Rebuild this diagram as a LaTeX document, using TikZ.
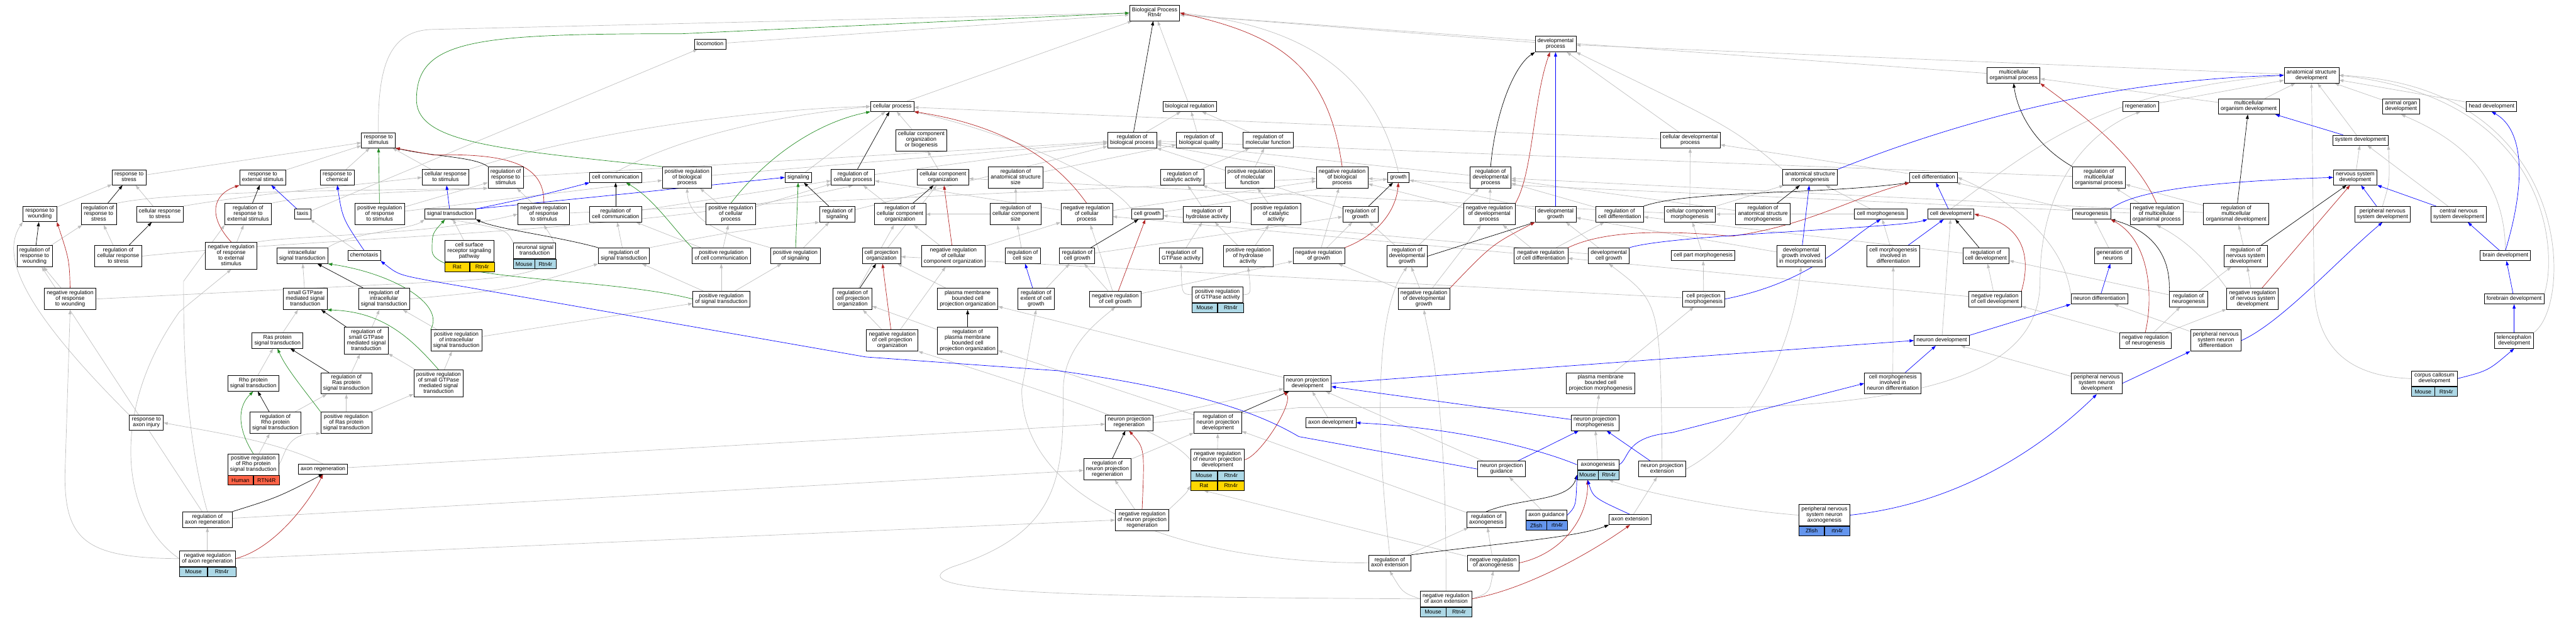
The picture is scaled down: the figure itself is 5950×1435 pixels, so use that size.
\documentclass[tikz,border=0pt]{standalone}
\usepackage{fontspec}
\setmainfont{Liberation Sans}
\usepackage{tikz}
\usetikzlibrary{arrows.meta, positioning}
\definecolor{isagray}{RGB}{190,190,190}
\definecolor{negred}{RGB}{178,34,34}
\definecolor{posgreen}{RGB}{34,139,34}
\definecolor{partblue}{RGB}{0,0,255}
\definecolor{mouseblue}{RGB}{173,216,230}
\definecolor{ratgold}{RGB}{255,215,0}
\definecolor{humanred}{RGB}{255,99,71}
\definecolor{zfishblue}{RGB}{100,149,237}
\pgfdeclarelayer{edgelayer}
\pgfsetlayers{edgelayer,main}

\begin{document}
\begin{tikzpicture}[x=1pt, y=-1pt,
        gobox/.style={rectangle, draw, line width=1.1pt, fill=white, align=center, inner xsep=5.5pt, inner ysep=5pt, font=\fontsize{12.8}{13}\selectfont, execute at begin node=\strut, execute at end node=\strut},
        genecell/.style={rectangle, draw, line width=1.1pt, anchor=north west, minimum height=22pt, inner sep=0pt, font=\fontsize{12.8}{13}\selectfont},
        arrowline/.style={-{Triangle[length=10pt,width=7pt]}, line width=1pt},
        isaline/.style={arrowline, isagray},
        regline/.style={arrowline, black},
        negline/.style={arrowline, negred},
        posline/.style={arrowline, posgreen},
        partline/.style={arrowline, partblue}
    ]
        \useasboundingbox (0,0) rectangle (5950,1435);
        \node[gobox] (bp) at (2667,30) {Biological Process\\Rtn4r};
        \node[gobox] (loco) at (1640,102) {locomotion};
        \node[gobox] (devproc) at (3593,102) {developmental\\process};
        \node[gobox] (mcop) at (4651,174) {multicellular\\organismal process};
        \node[gobox] (asd) at (5339,174) {anatomical structure\\development};
        \node[gobox] (cellproc) at (2061,246) {cellular process};
        \node[gobox] (bioreg) at (2748,246) {biological regulation};
        \node[gobox] (regen) at (4944,246) {regeneration};
        \node[gobox] (mcod) at (5194,246) {multicellular\\organism development};
        \node[gobox] (aod) at (5546,246) {animal organ\\development};
        \node[gobox] (headdev) at (5755,246) {head development};
        \node[gobox] (respstim) at (874,324) {response to\\stimulus};
        \node[gobox] (ccob) at (2128,324) {cellular component\\organization\\or biogenesis};
        \node[gobox] (regbp) at (2615,324) {regulation of\\biological process};
        \node[gobox] (regbq) at (2770,324) {regulation of\\biological quality};
        \node[gobox] (regmf) at (2929,324) {regulation of\\molecular function};
        \node[gobox] (celldevproc) at (3904,324) {cellular developmental\\process};
        \node[gobox] (sysdev) at (5452,324) {system development};
        \node[gobox] (respstress) at (298,410) {response to\\stress};
        \node[gobox] (respext) at (607,410) {response to\\external stimulus};
        \node[gobox] (respchem) at (779,410) {response to\\chemical};
        \node[gobox] (cellrespstim) at (1029,410) {cellular response\\to stimulus};
        \node[gobox] (regrespstim) at (1168,410) {regulation of\\response to\\stimulus};
        \node[gobox] (cellcomm) at (1422,410) {cell communication};
        \node[gobox] (posregbp) at (1587,410) {positive regulation\\of biological\\process};
        \node[gobox] (signaling) at (1844,410) {signaling};
        \node[gobox] (regcp) at (1970,410) {regulation of\\cellular process};
        \node[gobox] (cco) at (2178,410) {cellular component\\organization};
        \node[gobox] (regass) at (2346,410) {regulation of\\anatomical structure\\size};
        \node[gobox] (regcat) at (2731,410) {regulation of\\catalytic activity};
        \node[gobox] (posregmf) at (2887,410) {positive regulation\\of molecular\\function};
        \node[gobox] (negregbp) at (3100,410) {negative regulation\\of biological\\process};
        \node[gobox] (growth) at (3230,410) {growth};
        \node[gobox] (regdevproc) at (3443,410) {regulation of\\developmental\\process};
        \node[gobox] (asm) at (4181,410) {anatomical structure\\morphogenesis};
        \node[gobox] (celldiff) at (4466,410) {cell differentiation};
        \node[gobox] (regmcop) at (4848,410) {regulation of\\multicellular\\organismal process};
        \node[gobox] (nsd) at (5440,410) {nervous system\\development};
        \node[gobox] (respwound) at (92,495) {response to\\wounding};
        \node[gobox] (regrespstress) at (228,495) {regulation of\\response to\\stress};
        \node[gobox] (cellrespstress) at (369,495) {cellular response\\to stress};
        \node[gobox] (regrespext) at (573,495) {regulation of\\response to\\external stimulus};
        \node[gobox] (taxis) at (699,495) {taxis};
        \node[gobox] (posregrespstim) at (877,495) {positive regulation\\of response\\to stimulus};
        \node[gobox] (sigtrans) at (1040,495) {signal transduction};
        \node[gobox] (negregrespstim) at (1256,495) {negative regulation\\of response\\to stimulus};
        \node[gobox] (regcellcomm) at (1422,495) {regulation of\\cell communication};
        \node[gobox] (posregcp) at (1688,495) {positive regulation\\of cellular\\process};
        \node[gobox] (regsig) at (1934,495) {regulation of\\signaling};
        \node[gobox] (regcco) at (2079,495) {regulation of\\cellular component\\organization};
        \node[gobox] (regccs) at (2346,495) {regulation of\\cellular component\\size};
        \node[gobox] (negregcp) at (2510,495) {negative regulation\\of cellular\\process};
        \node[gobox] (cellgrowth) at (2650,495) {cell growth};
        \node[gobox] (reghyd) at (2788,495) {regulation of\\hydrolase activity};
        \node[gobox] (posregcat) at (2947,495) {positive regulation\\of catalytic\\activity};
        \node[gobox] (reggrowth) at (3142,495) {regulation of\\growth};
        \node[gobox] (negregdevproc) at (3440,495) {negative regulation\\of developmental\\process};
        \node[gobox] (devgrowth) at (3593,495) {developmental\\growth};
        \node[gobox] (regcelldiff) at (3741,495) {regulation of\\cell differentiation};
        \node[gobox] (ccm) at (3903,495) {cellular component\\morphogenesis};
        \node[gobox] (regasm) at (4072,495) {regulation of\\anatomical structure\\morphogenesis};
        \node[gobox] (cellmorph) at (4344,495) {cell morphogenesis};
        \node[gobox] (celldev) at (4506,495) {cell development};
        \node[gobox] (neurogen) at (4831,495) {neurogenesis};
        \node[gobox] (negregmcop) at (4981,495) {negative regulation\\of multicellular\\organismal process};
        \node[gobox] (regmcod) at (5165,495) {regulation of\\multicellular\\organismal development};
        \node[gobox] (pnsd) at (5503,495) {peripheral nervous\\system development};
        \node[gobox] (cnsd) at (5679,495) {central nervous\\system development};
        \node[gobox] (regrespwound) at (80,592) {regulation of\\response to\\wounding};
        \node[gobox] (regcellrespstress) at (273,592) {regulation of\\cellular response\\to stress};
        \node[gobox] (negregrespext) at (534,591) {negative regulation\\of response\\to external\\stimulus};
        \node[gobox] (intrasig) at (698,591) {intracellular\\signal transduction};
        \node[gobox] (chemotaxis) at (841,591) {chemotaxis};
        \node[gobox, minimum width=114pt] (csrsp) at (1084,580) {cell surface\\receptor signaling\\pathway};
        \node[genecell, fill=ratgold, minimum width=57pt] (csrsp-sp) at (csrsp.south west) {Rat};
        \node[genecell, fill=ratgold, minimum width=57pt] (csrsp-gn) at (csrsp-sp.north east) {Rtn4r};
        \node[gobox, minimum width=97pt] (neursig) at (1235,580) {neuronal signal\\transduction};
        \node[genecell, fill=mouseblue, minimum width=48.5pt] (neursig-sp) at (neursig.south west) {Mouse};
        \node[genecell, fill=mouseblue, minimum width=48.5pt] (neursig-gn) at (neursig-sp.north east) {Rtn4r};
        \node[gobox] (regsigtrans) at (1441,591) {regulation of\\signal transduction};
        \node[gobox] (posregcellcomm) at (1666,591) {positive regulation\\of cell communication};
        \node[gobox] (posregsig) at (1837,591) {positive regulation\\of signaling};
        \node[gobox] (cellprojorg) at (2036,591) {cell projection\\organization};
        \node[gobox] (negregcco) at (2202,592) {negative regulation\\of cellular\\component organization};
        \node[gobox] (regcellsize) at (2362,591) {regulation of\\cell size};
        \node[gobox] (regcellgrowth) at (2488,591) {regulation of\\cell growth};
        \node[gobox] (reggtp) at (2728,591) {regulation of\\GTPase activity};
        \node[gobox] (posreghyd) at (2883,592) {positive regulation\\of hydrolase\\activity};
        \node[gobox] (negreggrowth) at (3046,591) {negative regulation\\of growth};
        \node[gobox] (regdevgrowth) at (3250,592) {regulation of\\developmental\\growth};
        \node[gobox] (negregcelldiff) at (3559,591) {negative regulation\\of cell differentiation};
        \node[gobox] (devcellgrowth) at (3716,591) {developmental\\cell growth};
        \node[gobox] (cellpartmorph) at (3934,591) {cell part morphogenesis};
        \node[gobox] (devgrowthmorph) at (4160,592) {developmental\\growth involved\\in morphogenesis};
        \node[gobox] (cellmorphdiff) at (4373,592) {cell morphogenesis\\involved in\\differentiation};
        \node[gobox] (regcelldev) at (4587,591) {regulation of\\cell development};
        \node[gobox] (genneur) at (4880,591) {generation of\\neurons};
        \node[gobox] (regnsd) at (5187,592) {regulation of\\nervous system\\development};
        \node[gobox] (braindev) at (5787,591) {brain development};
        \node[gobox] (negregrespwound) at (162,691) {negative regulation\\of response\\to wounding};
        \node[gobox] (smallgtp) at (705,691) {small GTPase\\mediated signal\\transduction};
        \node[gobox] (regintrasig) at (887,691) {regulation of\\intracellular\\signal transduction};
        \node[gobox] (posregsigtrans) at (1666,691) {positive regulation\\of signal transduction};
        \node[gobox] (regcellprojorg) at (1969,691) {regulation of\\cell projection\\organization};
        \node[gobox] (pmbcpo) at (2235,691) {plasma membrane\\bounded cell\\projection organization};
        \node[gobox] (regextgrowth) at (2393,691) {regulation of\\extent of cell\\growth};
        \node[gobox] (negregcellgrowth) at (2576,691) {negative regulation\\of cell growth};
        \node[gobox, minimum width=118pt] (posreggtp) at (2812,681) {positive regulation\\of GTPase activity};
        \node[genecell, fill=mouseblue, minimum width=59pt] (posreggtp-sp) at (posreggtp.south west) {Mouse};
        \node[genecell, fill=mouseblue, minimum width=59pt] (posreggtp-gn) at (posreggtp-sp.north east) {Rtn4r};
        \node[gobox] (negregdevgrowth) at (3289,691) {negative regulation\\of developmental\\growth};
        \node[gobox] (cellprojmorph) at (3935,691) {cell projection\\morphogenesis};
        \node[gobox] (negregcelldev) at (4608,691) {negative regulation\\of cell development};
        \node[gobox] (neurdiff) at (4849,691) {neuron differentiation};
        \node[gobox] (regneurogen) at (5055,691) {regulation of\\neurogenesis};
        \node[gobox] (negregnsd) at (5203,691) {negative regulation\\of nervous system\\development};
        \node[gobox] (forebrain) at (5807,691) {forebrain development};
        \node[gobox] (rassig) at (641,787) {Ras protein\\signal transduction};
        \node[gobox] (regsmallgtp) at (846,787) {regulation of\\small GTPase\\mediated signal\\transduction};
        \node[gobox] (posregintrasig) at (1054,787) {positive regulation\\of intracellular\\signal transduction};
        \node[gobox] (negregcellprojorg) at (2061,787) {negative regulation\\of cell projection\\organization};
        \node[gobox] (regpmbcpo) at (2235,787) {regulation of\\plasma membrane\\bounded cell\\projection organization};
        \node[gobox] (neurdev) at (4485,787) {neuron development};
        \node[gobox] (negregneurogen) at (4955,787) {negative regulation\\of neurogenesis};
        \node[gobox] (pnsneurdiff) at (5118,787) {peripheral nervous\\system neuron\\differentiation};
        \node[gobox] (telenc) at (5807,787) {telencephalon\\development};
        \node[gobox] (rhosig) at (585,886) {Rho protein\\signal transduction};
        \node[gobox] (regrassig) at (800,886) {regulation of\\Ras protein\\signal transduction};
        \node[gobox] (posregsmallgtp) at (1013,886) {positive regulation\\of small GTPase\\mediated signal\\transduction};
        \node[gobox] (npd) at (3020,886) {neuron projection\\development};
        \node[gobox] (pmbcpm) at (3697,886) {plasma membrane\\bounded cell\\projection morphogenesis};
        \node[gobox] (cellmorphneur) at (4372,886) {cell morphogenesis\\involved in\\neuron differentiation};
        \node[gobox] (pnsneurdev) at (4843,886) {peripheral nervous\\system neuron\\development};
        \node[gobox, minimum width=105pt] (corpus) at (5623,875) {corpus callosum\\development};
        \node[genecell, fill=mouseblue, minimum width=52.5pt] (corpus-sp) at (corpus.south west) {Mouse};
        \node[genecell, fill=mouseblue, minimum width=52.5pt] (corpus-gn) at (corpus-sp.north east) {Rtn4r};
        \node[gobox] (respaxinj) at (338,977) {response to\\axon injury};
        \node[gobox] (regrhosig) at (636,977) {regulation of\\Rho protein\\signal transduction};
        \node[gobox] (posregrassig) at (800,977) {positive regulation\\of Ras protein\\signal transduction};
        \node[gobox] (nprojregen) at (2608,977) {neuron projection\\regeneration};
        \node[gobox] (regnpd) at (2813,977) {regulation of\\neuron projection\\development};
        \node[gobox] (axondev) at (3074,977) {axon development};
        \node[gobox] (npmorph) at (3684,977) {neuron projection\\morphogenesis};
        \node[gobox, minimum width=118pt] (posregrhosig) at (585,1073.5) {positive regulation\\of Rho protein\\signal transduction};
        \node[genecell, fill=humanred, minimum width=59pt] (posregrhosig-sp) at (posregrhosig.south west) {Human};
        \node[genecell, fill=humanred, minimum width=59pt] (posregrhosig-gn) at (posregrhosig-sp.north east) {RTN4R};
        \node[gobox] (axonregen) at (746,1084) {axon regeneration};
        \node[gobox] (regnpregen) at (2558,1084) {regulation of\\neuron projection\\regeneration};
        \node[gobox, minimum width=123pt] (negregnpd) at (2812,1062.5) {negative regulation\\of neuron projection\\development};
        \node[genecell, fill=mouseblue, minimum width=61.5pt] (negregnpd-sp) at (negregnpd.south west) {Mouse};
        \node[genecell, fill=mouseblue, minimum width=61.5pt] (negregnpd-gn) at (negregnpd-sp.north east) {Rtn4r};
        \node[genecell, fill=ratgold, minimum width=61.5pt] (negregnpd-rs) at (negregnpd-sp.south west) {Rat};
        \node[genecell, fill=ratgold, minimum width=61.5pt] (negregnpd-rg) at (negregnpd-rs.north east) {Rtn4r};
        \node[gobox] (npguid) at (3468,1084) {neuron projection\\guidance};
        \node[gobox, minimum width=96pt] (axonogen) at (3691,1074) {axonogenesis};
        \node[genecell, fill=mouseblue, minimum width=48pt] (axonogen-sp) at (axonogen.south west) {Mouse};
        \node[genecell, fill=mouseblue, minimum width=48pt] (axonogen-gn) at (axonogen-sp.north east) {Rtn4r};
        \node[gobox] (npext) at (3839,1084) {neuron projection\\extension};
        \node[gobox] (regaxonregen) at (479,1201) {regulation of\\axon regeneration};
        \node[gobox] (negregnpregen) at (2638,1202) {negative regulation\\of neuron projection\\regeneration};
        \node[gobox] (regaxonogen) at (3433,1201) {regulation of\\axonogenesis};
        \node[gobox, minimum width=95pt] (axonguid) at (3572,1190.5) {axon guidance};
        \node[genecell, fill=zfishblue, minimum width=47.5pt] (axonguid-sp) at (axonguid.south west) {Zfish};
        \node[genecell, fill=zfishblue, minimum width=47.5pt] (axonguid-gn) at (axonguid-sp.north east) {rtn4r};
        \node[gobox] (axonext) at (3765,1201) {axon extension};
        \node[gobox, minimum width=116pt] (pnsaxonogen) at (4214,1190.5) {peripheral nervous\\system neuron\\axonogenesis};
        \node[genecell, fill=zfishblue, minimum width=58pt] (pnsaxonogen-sp) at (pnsaxonogen.south west) {Zfish};
        \node[genecell, fill=zfishblue, minimum width=58pt] (pnsaxonogen-gn) at (pnsaxonogen-sp.north east) {rtn4r};
        \node[gobox] (regaxonext) at (3210,1301) {regulation of\\axon extension};
        \node[gobox] (negregaxonogen) at (3449,1301) {negative regulation\\of axonogenesis};
        \node[gobox, minimum width=129pt] (negregaxonregen) at (479,1291) {negative regulation\\of axon regeneration};
        \node[genecell, fill=mouseblue, minimum width=64.5pt] (negregaxonregen-sp) at (negregaxonregen.south west) {Mouse};
        \node[genecell, fill=mouseblue, minimum width=64.5pt] (negregaxonregen-gn) at (negregaxonregen-sp.north east) {Rtn4r};
        \node[gobox, minimum width=118pt] (negregaxonext) at (3340,1384) {negative regulation\\of axon extension};
        \node[genecell, fill=mouseblue, minimum width=59pt] (negregaxonext-sp) at (negregaxonext.south west) {Mouse};
        \node[genecell, fill=mouseblue, minimum width=59pt] (negregaxonext-gn) at (negregaxonext-sp.north east) {Rtn4r};
        \begin{pgfonlayer}{edgelayer}
        \draw[isaline] (respstim.north) .. controls (872,150) and (900,70) .. (1000,68) -- (bp.west);
        \draw[isaline] (loco) -- (bp);
        \draw[isaline] (cellproc) -- (bp);
        \draw[isaline] (bioreg) -- (bp);
        \draw[isaline] (devproc) -- (bp);
        \draw[isaline] (mcop) -- (bp);
        \draw[isaline] (growth.north) .. controls (3175,160) and (3000,60) .. (bp.east);
        \draw[isaline] (respstress) -- (respstim);
        \draw[isaline] (respext) -- (respstim);
        \draw[isaline] (respchem) -- (respstim);
        \draw[isaline] (cellrespstim) -- (respstim);
        \draw[isaline] (cellrespstim.north east) .. controls (1383,294) and (1800,250) .. (cellproc.west);
        \draw[isaline] (taxis) -- (loco);
        \draw[isaline] (regrespstim) -- (regbp);
        \draw[isaline] (cellcomm.north) .. controls (1600,300) and (1850,262) .. (cellproc.west);
        \draw[isaline] (posregbp) -- (regbp);
        \draw[isaline] (signaling) -- (cellproc);
        \draw[isaline] (regcp) -- (regbp);
        \draw[isaline] (ccob) -- (cellproc);
        \draw[isaline] (regbp) -- (bioreg);
        \draw[isaline] (regbq) -- (bioreg);
        \draw[isaline] (regmf) -- (bioreg);
        \draw[isaline] (cco) -- (ccob);
        \draw[isaline] (regass) -- (regbq);
        \draw[isaline] (regcat) -- (regmf);
        \draw[isaline] (posregmf) -- (regmf);
        \draw[isaline] (negregbp) -- (regbp);
        \draw[isaline] (regdevproc) -- (regbp);
        \draw[isaline] (celldevproc) -- (cellproc);
        \draw[isaline] (celldevproc) -- (devproc);
        \draw[isaline] (asd) -- (devproc);
        \draw[isaline] (mcod) -- (asd);
        \draw[isaline] (mcod) -- (mcop);
        \draw[isaline] (aod) -- (asd);
        \draw[isaline] (headdev) -- (asd);
        \draw[isaline] (sysdev) -- (asd);
        \draw[isaline] (nsd) -- (sysdev);
        \draw[isaline] (regen) -- (asd);
        \draw[isaline] (braindev.north) .. controls (5785,420) and (5700,330) .. (aod.south);
        \draw[isaline] (forebrain.north east) .. controls (5905,600) and (5905,230) .. (asd.east);
        \draw[isaline] (telenc.north east) .. controls (5945,700) and (5945,200) .. (asd.east);
        \draw[isaline] (corpus.west) .. controls (5420,870) and (5345,800) .. (5345,650) -- (asd.south);
        \draw[isaline] (cnsd) -- (sysdev);
        \draw[isaline] (pnsd.north) .. controls (5520,420) .. (sysdev.south east);
        \draw[isaline] (regmcop) -- (regbp);
        \draw[isaline] (negregmcop) -- (regmcop);
        \draw[isaline] (negregmcop) -- (negregbp);
        \draw[isaline] (regmcod) -- (regmcop);
        \draw[isaline] (regmcod) -- (regdevproc);
        \draw[isaline] (regnsd) -- (regmcod);
        \draw[isaline] (negregnsd) -- (regnsd);
        \draw[isaline] (negregnsd.north west) .. controls (5110,620) and (5060,560) .. (negregmcop.south);
        \draw[isaline] (regneurogen) -- (regnsd);
        \draw[isaline] (regneurogen) -- (regcelldev);
        \draw[isaline] (negregneurogen) -- (regneurogen);
        \draw[isaline] (negregneurogen) -- (negregnsd);
        \draw[isaline] (negregneurogen) -- (negregcelldev);
        \draw[isaline] (celldiff) -- (celldevproc);
        \draw[isaline] (celldev.north) .. controls (4700,340) and (4850,210) .. (asd.west);
        \draw[isaline] (cellmorph) -- (asm);
        \draw[isaline] (cellmorph) -- (ccm);
        \draw[isaline] (ccm) -- (asm);
        \draw[isaline] (ccm) -- (celldevproc);
        \draw[isaline] (ccm) -- (cco);
        \draw[isaline] (asm.north west) .. controls (4000,294) .. (devproc.south east);
        \draw[isaline] (regasm) -- (regdevproc);
        \draw[isaline] (cellpartmorph) -- (ccm);
        \draw[isaline] (cellprojmorph) -- (cellpartmorph);
        \draw[isaline] (cellprojmorph) -- (cellprojorg);
        \draw[isaline] (pmbcpm) -- (cellprojmorph);
        \draw[isaline] (devgrowth) -- (growth);
        \draw[isaline] (devcellgrowth) -- (devgrowth);
        \draw[isaline] (devcellgrowth) -- (cellgrowth);
        \draw[isaline] (devgrowthmorph) -- (devgrowth);
        \draw[isaline] (npext.east) .. controls (4050,1000) and (4140,800) .. (devgrowthmorph.south);
        \draw[isaline] (npext.north) .. controls (3835,700) .. (devcellgrowth.south);
        \draw[isaline] (regcelldiff) -- (regdevproc);
        \draw[isaline] (negregcelldiff) -- (regcelldiff);
        \draw[isaline] (negregcelldiff) -- (negregdevproc);
        \draw[isaline] (negregcelldiff) -- (negregcp);
        \draw[isaline] (regcelldev) -- (regcelldiff);
        \draw[isaline] (negregcelldev) -- (regcelldev);
        \draw[isaline] (negregcelldev) -- (negregcelldiff);
        \draw[isaline] (neurdiff.north west) .. controls (4765,551) and (4640,460) .. (celldiff.east);
        \draw[isaline] (genneur) -- (neurogen);
        \draw[isaline] (neurogen) -- (celldiff);
        \draw[isaline] (neurdev) -- (celldev);
        \draw[isaline] (cellmorphdiff) -- (cellmorph);
        \draw[isaline] (cellmorphneur) -- (cellmorphdiff);
        \draw[isaline] (pnsneurdev) -- (neurdev);
        \draw[isaline] (pnsaxonogen.west) .. controls (4000,1179) and (3800,1140) .. (axonogen-gn.south);
        \draw[isaline] (pnsneurdiff) -- (neurdiff);
        \draw[isaline] (cellgrowth) -- (growth);
        \draw[isaline] (cellgrowth.north west) .. controls (2574,427) and (2383,321) .. (cellproc.south east);
        \draw[isaline] (regcellgrowth) -- (reggrowth);
        \draw[isaline] (negregcellgrowth) -- (regcellgrowth);
        \draw[isaline] (negregcellgrowth) -- (negreggrowth);
        \draw[isaline] (negregcellgrowth) -- (negregcp);
        \draw[isaline] (regextgrowth) -- (regcellgrowth);
        \draw[isaline] (regcellsize) -- (regccs);
        \draw[isaline] (regccs) -- (regass);
        \draw[isaline] (regccs) -- (regcco);
        \draw[isaline] (negregcp) -- (regcp);
        \draw[isaline] (negregcp) -- (negregbp);
        \draw[isaline] (regcco) -- (regcp);
        \draw[isaline] (negregcco) -- (regcco);
        \draw[isaline] (negregcco) -- (negregcp);
        \draw[isaline] (reghyd) -- (regcat);
        \draw[isaline] (reggtp) -- (reghyd);
        \draw[isaline] (posreghyd) -- (reghyd);
        \draw[isaline] (posreghyd) -- (posregcat);
        \draw[isaline] (posregcat) -- (regcat);
        \draw[isaline] (posregcat) -- (posregmf);
        \draw[isaline] (posreggtp.west) .. controls (2730,680) .. (reggtp.south);
        \draw[isaline] (posreggtp.east) .. controls (2890,680) .. (posreghyd.south);
        \draw[isaline] (reggrowth) -- (regbp);
        \draw[isaline] (negreggrowth) -- (reggrowth);
        \draw[isaline] (negreggrowth) -- (negregbp);
        \draw[isaline] (regdevgrowth) -- (reggrowth);
        \draw[isaline] (regdevgrowth) -- (regdevproc);
        \draw[isaline] (negregdevgrowth) -- (regdevgrowth);
        \draw[isaline] (negregdevgrowth) -- (negreggrowth);
        \draw[isaline] (negregdevgrowth) -- (negregdevproc);
        \draw[isaline] (negregdevproc) -- (regdevproc);
        \draw[isaline] (negregdevproc) -- (negregbp);
        \draw[isaline] (cellprojorg) -- (cco);
        \draw[isaline] (regcellprojorg) -- (regcco);
        \draw[isaline] (negregcellprojorg) -- (regcellprojorg);
        \draw[isaline] (negregcellprojorg) -- (negregcco);
        \draw[isaline] (pmbcpo) -- (cellprojorg);
        \draw[isaline] (regpmbcpo) -- (regcellprojorg);
        \draw[isaline] (npd) -- (pmbcpo);
        \draw[isaline] (regnpd) -- (regpmbcpo);
        \draw[isaline] (negregnpd) -- (regnpd);
        \draw[isaline] (negregnpd.west) .. controls (2700,1000) and (2500,930) .. (negregcellprojorg.south east);
        \draw[isaline] (regnpregen) -- (regnpd);
        \draw[isaline] (negregnpregen) -- (regnpregen);
        \draw[isaline] (negregnpregen.north east) .. controls (2740,1140) .. (negregnpd-rs.west);
        \draw[isaline] (nprojregen) -- (npd);
        \draw[isaline] (nprojregen.east) -- (3000,942) -- (4000,942) .. controls (4550,930) and (4712,820) .. (4712,650) .. controls (4712,420) and (4830,300) .. (regen.south);
        \draw[isaline] (axonregen) -- (nprojregen);
        \draw[isaline] (axonregen.north) .. controls (640,1020) and (500,1000) .. (respaxinj.east);
        \draw[isaline] (regaxonregen) -- (regnpregen);
        \draw[isaline] (negregaxonregen.east) -- (negregnpregen.west);
        \draw[isaline] (negregaxonregen) -- (regaxonregen);
        \draw[isaline] (negregaxonregen.west) .. controls (200,1290) and (150,1250) .. (150,1100) -- (negregrespwound.south);
        \draw[isaline] (negregaxonregen.west) .. controls (280,1200) and (250,950) .. (415,720) -- (negregrespext.south);
        \draw[isaline] (regaxonregen) -- (regrespwound);
        \draw[isaline] (regaxonregen.north) .. controls (424,990) and (424,760) .. (424,650) -- (regrespext.south west);
        \draw[isaline] (respaxinj.north west) .. controls (54,715) and (0,592) .. (respwound.south west);
        \draw[isaline] (regrespwound) -- (regrespstress);
        \draw[isaline] (respwound) -- (respstress);
        \draw[isaline] (regrespstress.north east) .. controls (400,440) and (900,440) .. (regrespstim.south west);
        \draw[isaline] (cellrespstress) -- (respstress);
        \draw[isaline] (cellrespstress.north east) .. controls (574,450) and (800,430) .. (cellrespstim.west);
        \draw[isaline] (regcellrespstress) -- (regrespstress);
        \draw[isaline] (regcellrespstress.east) .. controls (765,546) and (1500,540) .. (regcp.south);
        \draw[isaline] (regrespext.north east) .. controls (701,450) and (1000,441) .. (regrespstim.south west);
        \draw[isaline] (negregrespext) -- (regrespext);
        \draw[isaline] (negregrespext.north east) .. controls (670,544) and (1000,544) .. (negregrespstim.west);
        \draw[isaline] (negregrespwound) -- (regrespwound);
        \draw[isaline] (negregrespwound.east) -- (1000,652) .. controls (1300,640) and (1310,600) .. (negregrespstim.south);
        \draw[isaline] (negregrespstim) -- (regrespstim);
        \draw[isaline] (negregrespstim) -- (negregbp);
        \draw[isaline] (posregrespstim) -- (regrespstim);
        \draw[isaline] (posregrespstim) -- (posregbp);
        \draw[isaline] (intrasig.north east) .. controls (800,540) and (950,530) .. (sigtrans.south west);
        \draw[isaline] (smallgtp) -- (intrasig);
        \draw[isaline] (rassig) -- (smallgtp);
        \draw[isaline] (rhosig) -- (rassig);
        \draw[isaline] (regintrasig.east) .. controls (1191,668) .. (regsigtrans.south west);
        \draw[isaline] (regsmallgtp) -- (regintrasig);
        \draw[isaline] (regrassig) -- (regsmallgtp);
        \draw[isaline] (regrhosig) -- (regrassig);
        \draw[isaline] (posregrassig) -- (regrassig);
        \draw[isaline] (posregrassig) -- (posregsmallgtp);
        \draw[isaline] (posregrhosig) -- (regrhosig);
        \draw[isaline] (posregrhosig.east) .. controls (660,1050) and (660,1000) .. (posregrassig.south west);
        \draw[isaline] (posregsmallgtp) -- (regsmallgtp);
        \draw[isaline] (posregsmallgtp) -- (posregintrasig);
        \draw[isaline] (posregintrasig) -- (regintrasig);
        \draw[isaline] (posregintrasig) -- (posregsigtrans);
        \draw[isaline] (csrsp) -- (sigtrans);
        \draw[isaline] (neursig.north west) .. controls (1170,530) .. (sigtrans.south);
        \draw[isaline] (regsigtrans.north east) .. controls (1702,533) .. (regsig.south west);
        \draw[isaline] (regsigtrans) -- (regcellcomm);
        \draw[isaline] (regcellcomm) -- (regcp);
        \draw[isaline] (regsig) -- (regbp);
        \draw[isaline] (posregcellcomm) -- (regcellcomm);
        \draw[isaline] (posregcellcomm) -- (posregcp);
        \draw[isaline] (posregsig) -- (regsig);
        \draw[isaline] (posregsig.north west) .. controls (1700,550) and (1590,520) .. (posregbp.south);
        \draw[isaline] (posregsigtrans) -- (regsigtrans);
        \draw[isaline] (posregsigtrans) -- (posregcellcomm);
        \draw[isaline] (posregsigtrans) -- (posregsig);
        \draw[isaline] (posregcp) -- (regcp);
        \draw[isaline] (posregcp) -- (posregbp);
        \draw[isaline] (chemotaxis) -- (taxis);
        \draw[isaline] (npguid) -- (npd);
        \draw[isaline] (axonguid) -- (npguid);
        \draw[isaline] (axonogen) -- (npmorph);
        \draw[isaline] (axondev) -- (npd);
        \draw[isaline] (npmorph) -- (pmbcpm);
        \draw[isaline] (axonext) -- (npext);
        \draw[isaline] (regaxonogen) -- (regnpd);
        \draw[isaline] (negregaxonogen) -- (regaxonogen);
        \draw[isaline] (negregaxonogen) -- (negregnpd-rs.south);
        \draw[isaline] (regaxonext.north) .. controls (3178,1000) and (3175,720) .. (regdevgrowth.south);
        \draw[isaline] (regaxonext) -- (regaxonogen);
        \draw[isaline] (regaxonext.west) .. controls (2700,1300) and (2360,1150) .. (2360,900) -- (regextgrowth.south);
        \draw[isaline] (negregaxonext.west) .. controls (3240,1370) .. (regaxonext.south);
        \draw[isaline] (negregaxonext.east) .. controls (3440,1370) .. (negregaxonogen.south);
        \draw[isaline] (negregaxonext.north) .. controls (3341,900) and (3300,780) .. (negregdevgrowth.south);
        \draw[isaline] (negregaxonext.west) .. controls (2500,1380) and (2050,1370) .. (2200,1310) .. controls (2450,1230) and (2456,1100) .. (2456,900) .. controls (2456,800) and (2540,740) .. (negregcellgrowth.south);
        \draw[regline] (regbp) -- (bp);
        \draw[regline] (regrespstim.north west) .. controls (1096,362) and (1000,362) .. (respstim.south east);
        \draw[regline] (regrespstress) -- (respstress);
        \draw[regline] (regrespext) -- (respext);
        \draw[regline] (regrespwound) -- (respwound);
        \draw[regline] (regcellrespstress) -- (cellrespstress);
        \draw[regline] (regintrasig) -- (intrasig);
        \draw[regline] (regcellcomm) -- (cellcomm);
        \draw[regline] (regsig) -- (signaling);
        \draw[regline] (regsigtrans.north west) .. controls (1287,546) and (1150,530) .. (sigtrans.south east);
        \draw[regline] (regcp) -- (cellproc);
        \draw[regline] (regcco) -- (cco);
        \draw[regline] (regcellgrowth) -- (cellgrowth);
        \draw[regline] (regcellprojorg) -- (cellprojorg);
        \draw[regline] (regpmbcpo) -- (pmbcpo);
        \draw[regline] (reggrowth) -- (growth);
        \draw[regline] (regdevproc.north) .. controls (3455,250) and (3500,150) .. (devproc.south west);
        \draw[regline] (regdevgrowth.east) -- (devgrowth.south west);
        \draw[regline] (regcelldiff.north east) .. controls (3900,440) and (4200,450) .. (celldiff.south west);
        \draw[regline] (regasm) -- (asm);
        \draw[regline] (regmcop.north west) .. controls (4700,335) and (4660,260) .. (mcop.south);
        \draw[regline] (regcelldev) -- (celldev);
        \draw[regline] (regneurogen.north west) .. controls (5014,580) and (4960,530) .. (neurogen.south east);
        \draw[regline] (regmcod) -- (mcod);
        \draw[regline] (regnsd) -- ([xshift=-20pt]nsd.south);
        \draw[regline] (regsmallgtp) -- (smallgtp);
        \draw[regline] (regrassig) -- (rassig);
        \draw[regline] (regrhosig) -- (rhosig);
        \draw[regline] (regaxonregen.north east) .. controls (640,1150) .. (axonregen.south);
        \draw[regline] (regnpregen) -- (nprojregen);
        \draw[regline] (regnpd) -- (npd);
        \draw[regline] (regaxonogen.north) .. controls (3510,1150) and (3625,1160) .. (axonogen-sp.west);
        \draw[regline] (regaxonext.north east) .. controls (3446,1257) and (3640,1243) .. (axonext.south west);
        \draw[negline] (negregbp.north) .. controls (3067,150) and (2950,80) .. (bp.east);
        \draw[negline] (negregrespstim.north) .. controls (1260,370) and (1150,355) .. (1000,358) -- (respstim.south east);
        \draw[negline] (negregrespwound.north) .. controls (160,600) .. (respwound.south east);
        \draw[negline] (negregrespext.north) .. controls (480,500) and (490,450) .. (respext.south west);
        \draw[negline] (negregcp.north) .. controls (2440,370) and (2320,290) .. (cellproc.south east);
        \draw[negline] (negregcco) -- (cco);
        \draw[negline] (negregcellgrowth) -- (cellgrowth);
        \draw[negline] (negregcellprojorg) -- (cellprojorg);
        \draw[negline] (negreggrowth.north east) .. controls (3190,540) and (3225,480) .. (growth.south);
        \draw[negline] (negregdevproc.north east) .. controls (3541,400) and (3541,230) .. ([xshift=-13pt]devproc.south);
        \draw[negline] (negregdevgrowth.north east) .. controls (3446,565) .. (devgrowth.south west);
        \draw[negline] (negregcelldiff.north east) .. controls (3700,535) and (3830,530) .. (4000,546) .. controls (4180,520) and (4270,460) .. (celldiff.south west);
        \draw[negline] (negregmcop.north) .. controls (4931,349) and (4770,235) .. (mcop.south east);
        \draw[negline] (negregcelldev.north east) .. controls (4690,600) and (4680,520) .. (celldev.east);
        \draw[negline] (negregneurogen.north) .. controls (4972,700) and (4972,560) .. (neurogen.south east);
        \draw[negline] (negregnsd) -- ([xshift=-12pt]nsd.south);
        \draw[negline] (negregaxonregen.east) .. controls (640,1266) and (720,1150) .. (axonregen.south);
        \draw[negline] (negregnpregen.north) .. controls (2644,1036) .. (nprojregen.south);
        \draw[negline] (negregnpd.east) .. controls (2910,1055) and (2990,930) .. (npd.south west);
        \draw[negline] (negregaxonogen.east) .. controls (3606,1280) and (3668,1200) .. (axonogen-sp.south);
        \draw[negline] (negregaxonext.east) .. controls (3542,1358) and (3700,1260) .. (axonext.south);
        \draw[posline] (posregbp.north west) .. controls (1150,345) and (962,330) .. (962,230) .. controls (962,90) and (1100,78) .. (1574,78) -- (bp.west);
        \draw[posline] (posregrespstim) -- (respstim);
        \draw[posline] (posregcp.north) .. controls (1780,350) and (1900,280) .. (cellproc.south west);
        \draw[posline] (posregcellcomm.north west) .. controls (1555,528) and (1510,459) .. ([xshift=24pt]cellcomm.south);
        \draw[posline] (posregsig) -- (signaling);
        \draw[posline] (posregsigtrans.west) .. controls (1400,640) and (1000,650) .. (998,580) .. controls (998,540) .. ([xshift=-12pt]sigtrans.south);
        \draw[posline] (posregintrasig.north west) .. controls (1030,700) and (900,630) .. (intrasig.south east);
        \draw[posline] (posregsmallgtp.north) .. controls (944,775) and (880,720) .. (smallgtp.south east);
        \draw[posline] (posregrassig.north west) .. controls (701,899) and (660,850) .. (rassig.south);
        \draw[posline] (posregrhosig.north) .. controls (548,990) and (548,940) .. (rhosig.south);
        \draw[partline] (sigtrans) -- (cellrespstim);
        \draw[partline] (sigtrans.north east) .. controls (1255,450) .. (cellcomm.south west);
        \draw[partline] (sigtrans.north east) .. controls (1446,448) .. (signaling.west);
        \draw[partline] (taxis) -- (respext);
        \draw[partline] (chemotaxis.north) .. controls (791,505) .. (respchem.south);
        \draw[partline] (npguid.west) -- (3000,1009) .. controls (2900,950) and (2750,900) .. (2446,857) -- (2000,825) -- (1000,650) .. controls (920,635) .. (chemotaxis.south east);
        \draw[partline] (npmorph) -- (npd);
        \draw[partline] (axonogen.west) .. controls (3560,1040) and (3380,990) .. (axondev.east);
        \draw[partline] (npguid) -- (npmorph);
        \draw[partline] (npext) -- (npmorph);
        \draw[partline] (axonguid.east) .. controls (3640,1170) .. (axonogen-sp.west);
        \draw[partline] (axonext.north) .. controls (3680,1150) .. (axonogen-sp.south);
        \draw[partline] (axonogen.east) .. controls (3765,1060) and (3750,1010) .. (3861,1000) -- (cellmorphneur.west);
        \draw[partline] (npd.east) -- (neurdev.west);
        \draw[partline] (cellmorphneur) -- (neurdev);
        \draw[partline] (neurdev.north east) -- (neurdiff.south west);
        \draw[partline] (pnsaxonogen.east) .. controls (4510,1165) and (4700,1050) .. (pnsneurdev.south);
        \draw[partline] (pnsneurdev.east) -- (pnsneurdiff.south west);
        \draw[partline] (pnsneurdiff.east) .. controls (5270,745) and (5400,600) .. (pnsd.south);
        \draw[partline] (corpus.east) .. controls (5747,857) .. (telenc.south);
        \draw[partline] (telenc) -- (forebrain);
        \draw[partline] (forebrain) -- (braindev);
        \draw[partline] (braindev) -- (cnsd);
        \draw[partline] (braindev.north) .. controls (5835,420) and (5830,300) .. (headdev.south);
        \draw[partline] (cnsd) -- (nsd);
        \draw[partline] (pnsd) -- (nsd);
        \draw[partline] (sysdev) -- (mcod);
        \draw[partline] (neurogen.north east) .. controls (4930,440) and (5100,420) .. (nsd.west);
        \draw[partline] (asm.north east) .. controls (4500,290) and (4850,185) .. (asd.west);
        \draw[partline] (celldev) -- (celldiff);
        \draw[partline] (devgrowthmorph) -- (asm);
        \draw[partline] (cellprojmorph.east) .. controls (4191,650) and (4268,551) .. (cellmorph.south);
        \draw[partline] (devcellgrowth.north east) .. controls (3861,542) and (4383,528) .. (celldev.south west);
        \draw[partline] (cellmorphdiff) -- (celldev);
        \draw[partline] (neurdiff) -- (genneur);
        \draw[partline] (devgrowth) -- (devproc);
        \draw[partline] (regextgrowth) -- (regcellsize);
        \end{pgfonlayer}
    \end{tikzpicture}
\end{document}
